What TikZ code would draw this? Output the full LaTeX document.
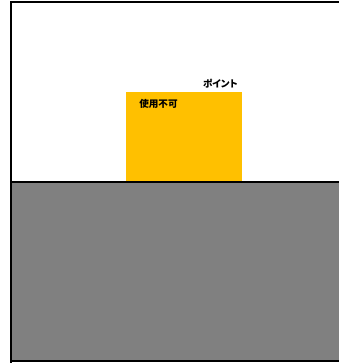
\documentclass[tikz,border=0pt]{standalone}
\usepackage{fontspec}
\newfontfamily\cjk{Noto Sans CJK JP}[RawFeature=+palt]
\definecolor{zoneorange}{HTML}{FFC000}
\definecolor{floorgray}{HTML}{808080}
\tikzset{
  lbl/.style={font=\cjk\bfseries\fontsize{7.2}{8}\selectfont, inner sep=0pt, text=black},
  frame/.style={draw=black, line width=1.5pt},
}
\begin{document}
\begin{tikzpicture}[x=0.75pt,y=-0.75pt]
\useasboundingbox (0,0) rectangle (339,363);
\fill[floorgray] (11,182) rectangle (339,361);
\fill[zoneorange] (126,92) rectangle (242,182);
\draw[black, line width=1pt] (11,182) -- (339,182);
\draw[frame] (11,363) -- (11,2.5) -- (339,2.5);
\draw[frame] (11,361) -- (339,361);
\node[lbl, anchor=east] (point) at (238,84) {ポイント};
\node[lbl, anchor=west] (unusable) at (139,104) {使用不可};
\end{tikzpicture}
\end{document}
